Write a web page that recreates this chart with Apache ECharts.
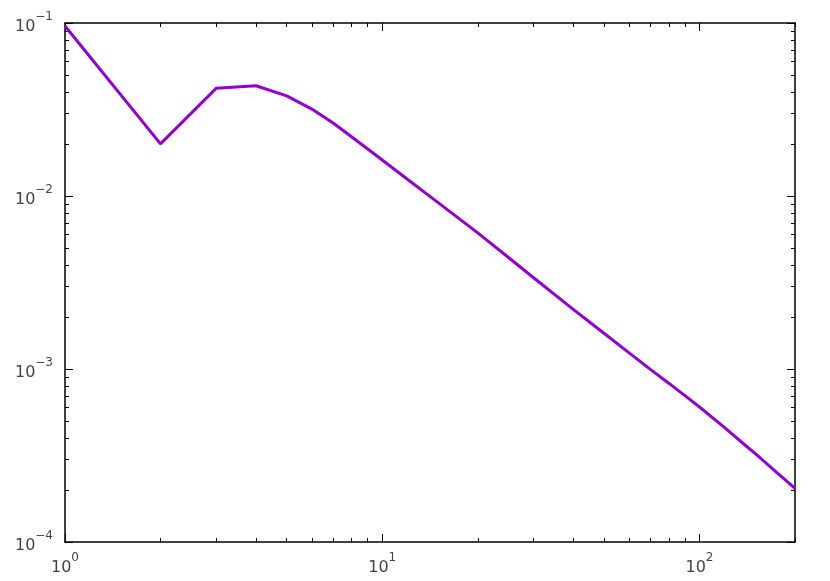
<!DOCTYPE html>
<html>
<head>
<meta charset="utf-8">
<script src="https://cdn.jsdelivr.net/npm/echarts@6/dist/echarts.min.js"></script>
<style>
  html, body { margin: 0; padding: 0; background: #fff; }
  #chart { width: 830px; height: 581px; }
</style>
</head>
<body>
<div id="chart"></div>
<script>
// x values and the curve
const xValues = [1, 2, 3, 4, 5, 6, 7, 8, 9, 10, 12, 15, 20, 25, 30, 40, 50, 60, 70, 80, 90, 100, 120, 140, 150, 175, 200]
const yValues = [0.096, 0.020, 0.042, 0.0434, 0.0379, 0.0318, 0.0264, 0.0220, 0.0187, 0.01614, 0.0125, 0.00916, 0.00612, 0.00441, 0.00337, 0.00221, 0.00161, 0.00124, 0.000995, 0.000828, 0.000702, 0.000603, 0.000458, 0.000360, 0.000324, 0.000253, 0.000204]

// tick positions
const xMajor = [1, 10, 100]
const xMinor = [2, 3, 4, 5, 6, 7, 8, 9, 20, 30, 40, 50, 60, 70, 80, 90, 200]
const yMajor = [0.0001, 0.001, 0.01, 0.1]
const yMinor = [0.0002, 0.0003, 0.0004, 0.0005, 0.0006, 0.0007, 0.0008, 0.0009,
  0.002, 0.003, 0.004, 0.005, 0.006, 0.007, 0.008, 0.009,
  0.02, 0.03, 0.04, 0.05, 0.06, 0.07, 0.08, 0.09]

const lineData = xValues.map((x, i) => [x, yValues[i]])

const labelRich = {
  b: { fontSize: 16, color: '#444', fontFamily: 'DejaVu Sans', lineHeight: 24, verticalAlign: 'bottom' },
  s: { fontSize: 12, color: '#444', fontFamily: 'DejaVu Sans', lineHeight: 12, verticalAlign: 'top' }
}
function powLabel (v) {
  const e = Math.round(Math.log10(v))
  return '{b|10}{s|' + (e < 0 ? '\u2212' + (-e) : e) + '}'
}

function makeAxis (dir, pos, ticks, len, major, withLabel) {
  const ax = {
    type: 'log',
    logBase: 10,
    position: pos,
    min: dir === 'x' ? 1 : 0.0001,
    max: dir === 'x' ? 200 : 0.1,
    splitLine: { show: false },
    axisLine: { show: major, onZero: false, lineStyle: { color: '#000', width: 1.5 } },
    axisTick: { show: true, inside: true, length: len, customValues: ticks, lineStyle: { color: '#000', width: 1 } },
    axisLabel: { show: false }
  }
  if (withLabel) {
    ax.axisLabel = {
      show: true,
      customValues: ticks,
      margin: dir === 'x' ? 10 : 12,
      formatter: powLabel,
      rich: labelRich
    }
  }
  return ax
}

const chart = echarts.init(document.getElementById('chart'))
const option = {
  animation: false,
  backgroundColor: '#fff',
  grid: { left: 65, right: 35, top: 23, bottom: 39, containLabel: false },
  xAxis: [
    makeAxis('x', 'bottom', xMajor, 8, true, true),
    makeAxis('x', 'bottom', xMinor, 4, false, false),
    makeAxis('x', 'top', xMajor, 8, true, false),
    makeAxis('x', 'top', xMinor, 4, false, false)
  ],
  yAxis: [
    makeAxis('y', 'left', yMajor, 8, true, true),
    makeAxis('y', 'left', yMinor, 4, false, false),
    makeAxis('y', 'right', yMajor, 8, true, false),
    makeAxis('y', 'right', yMinor, 4, false, false)
  ],
  series: [
    {
      type: 'line',
      xAxisIndex: 0,
      yAxisIndex: 0,
      data: lineData,
      showSymbol: false,
      lineStyle: { color: '#9400d3', width: 3 },
      z: 5
    }
  ]
}
chart.setOption(option)
</script>
</body>
</html>
